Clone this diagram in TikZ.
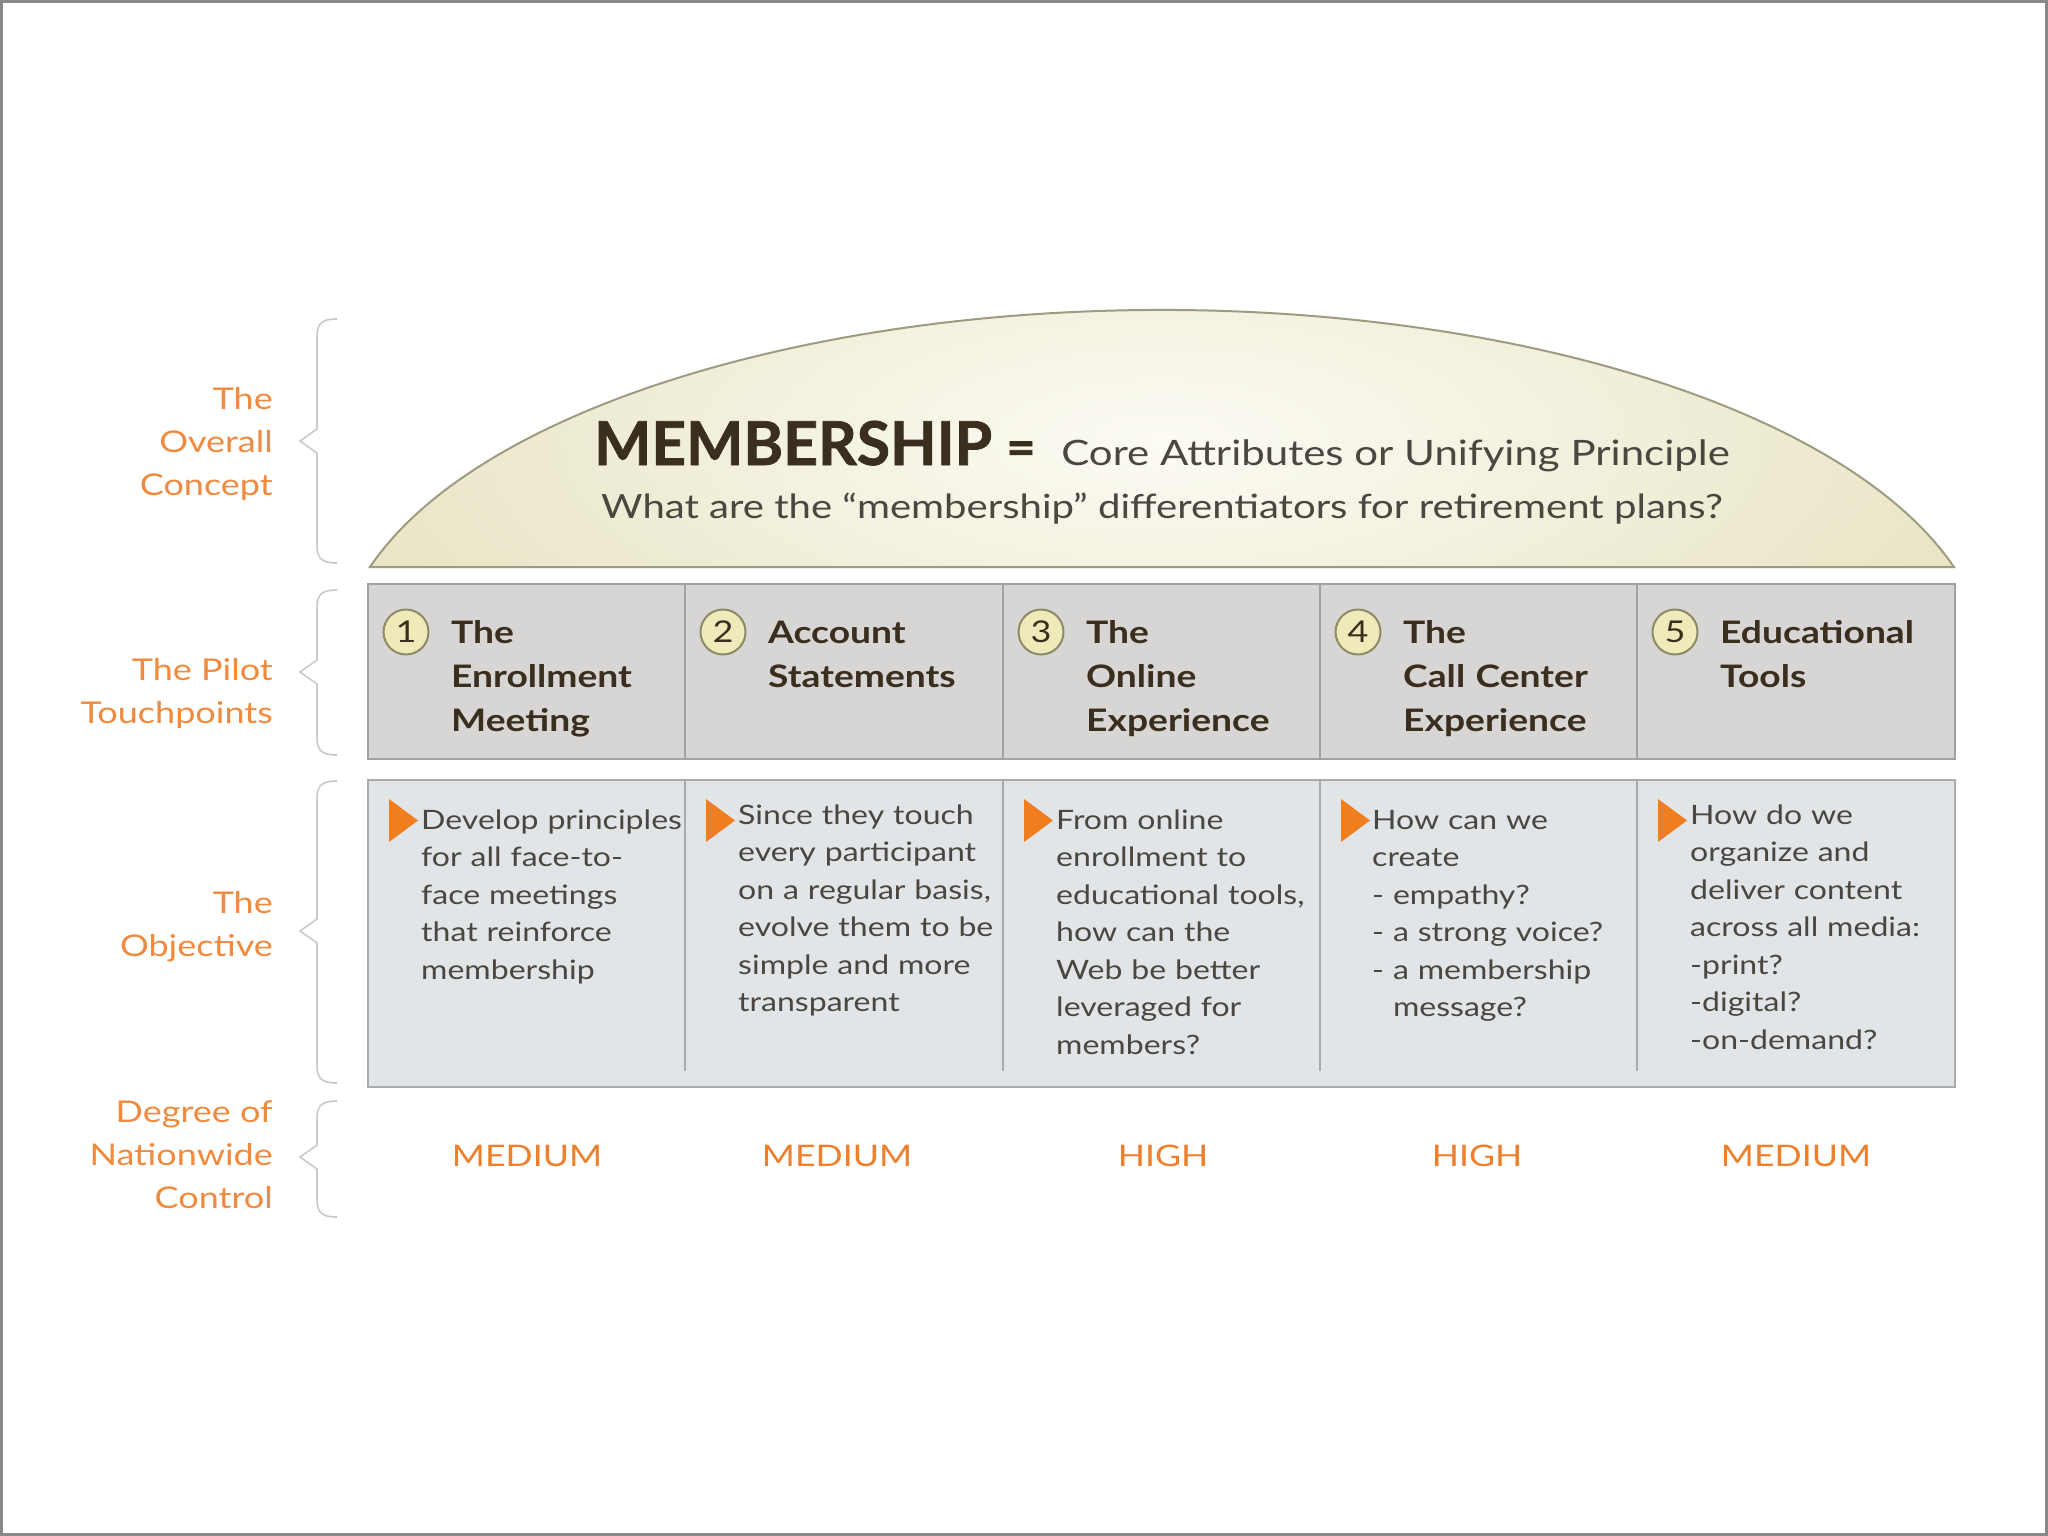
\documentclass[tikz,border=0pt]{standalone}
\usepackage{fontspec}
\setmainfont{Lato}
\newfontfamily\av{Lato}[FakeStretch=1.2]
\newfontfamily\avn{Lato}[BoldFeatures={FakeBold=1.2}]
\definecolor{orangeL}{HTML}{F08A3E}
\definecolor{orangeM}{HTML}{EE7F2D}
\definecolor{triC}{HTML}{F07D1E}
\definecolor{titleC}{HTML}{3A2E1E}
\definecolor{bodyC}{HTML}{4A4640}
\definecolor{domeIn}{HTML}{FCFBF4}
\definecolor{domeOut}{HTML}{DAD4A2}
\definecolor{domeLine}{HTML}{9E9C80}
\definecolor{rowAF}{HTML}{D7D6D4}
\definecolor{rowAD}{HTML}{A3A2A0}
\definecolor{rowBF}{HTML}{E1E5E8}
\definecolor{rowBD}{HTML}{A8AAAB}
\definecolor{circF}{HTML}{EFEAB9}
\definecolor{circD}{HTML}{8D8B66}
\definecolor{braceC}{HTML}{CACACA}
\definecolor{frameC}{HTML}{888888}
\tikzset{
  lbl/.style={anchor=base east, align=right, text=orangeL, inner sep=0,
    font=\av\fontsize{30}{43}\selectfont},
  ttl/.style={anchor=base west, align=left, text width=330pt, text=titleC, inner sep=0,
    font=\av\bfseries\fontsize{31}{44}\selectfont},
  bodytxt/.style={anchor=base west, align=left, text width=330pt, text=bodyC, inner sep=0,
    font=\av\fontsize{26.7}{37.5}\selectfont},
  numc/.style={circle, minimum size=45pt, inner sep=0, fill=circF, draw=circD, line width=2pt,
    text=titleC, font=\av\fontsize{30}{30}\selectfont},
  lvl/.style={anchor=base, text=orangeM, inner sep=0, font=\av\fontsize{29.7}{30}\selectfont},
  bracestyle/.style={draw=braceC, line width=1.6pt, line join=round},
  tri/.style={fill=triC},
  domepath/.style={insert path={(370,567) arc[start angle=196.27, end angle=343.73, x radius=825, y radius=357] -- cycle}},
}
\begin{document}
\begin{tikzpicture}[x=1pt,y=-1pt]
\useasboundingbox (0,0) rectangle (2048,1536);
\fill[white] (0,0) rectangle (2048,1536);
\draw[frameC, line width=3pt] (1.5,1.5) rectangle (2046.5,1534.5);

% dome
\begin{scope}
  \clip[domepath];
  \shade[inner color=domeIn, outer color=domeOut] (1162,440) ellipse[x radius=1500, y radius=560];
\end{scope}
\draw[domeLine, line width=2pt, domepath];

\node[anchor=base west, inner sep=0, text=titleC, font=\avn\bfseries\fontsize{60.5}{60}\selectfont] (mem) at (594,465) {MEMBERSHIP};
\node[anchor=base, inner sep=0, text=titleC, font=\avn\bfseries\fontsize{50}{50}\selectfont] (eq) at (1021,465) {=};
\node[anchor=base east, inner sep=0, text=bodyC, font=\av\fontsize{35}{35}\selectfont] (core) at (1730,465) {Core Attributes or Unifying Principle};
\node[anchor=base, inner sep=0, text=bodyC, font=\av\fontsize{33.4}{34}\selectfont] (quest) at (1162,518) {What are the “membership” differentiators for retirement plans?};

% row 1
\draw[fill=rowAF, draw=rowAD, line width=2pt] (368,584) rectangle (1955,759);
\foreach \x in {685,1003,1320,1637} \draw[rowAD, line width=1.6pt] (\x,584) -- (\x,759);
% row 2
\draw[fill=rowBF, draw=rowBD, line width=2pt] (368,780) rectangle (1955,1087);
\foreach \x in {685,1003,1320,1637} \draw[rowBD, line width=1.6pt] (\x,780) -- (\x,1071);

% numbers and titles
\node[numc] (n1) at (406,632) {1};
\node[numc] (n2) at (723,632) {2};
\node[numc] (n3) at (1041,632) {3};
\node[numc] (n4) at (1358,632) {4};
\node[numc] (n5) at (1675,632) {5};
\node[ttl] (t1) at (451,643) {The\\Enrollment\\Meeting};
\node[ttl] (t2) at (768,643) {Account\\Statements};
\node[ttl] (t3) at (1086,643) {The\\Online\\Experience};
\node[ttl] (t4) at (1403,643) {The\\Call Center\\Experience};
\node[ttl] (t5) at (1720,643) {Educational\\Tools};

% triangles
\foreach \x in {368,685,1003,1320,1637}
  \fill[tri] (\x+21,799) -- (\x+21,842) -- (\x+50,820.5) -- cycle;

% objectives
\node[bodytxt] (o1) at (421,829) {Develop principles\\for all face-to-\\face meetings\\that reinforce\\membership};
\node[bodytxt] (o2) at (738,824) {Since they touch\\every participant\\on a regular basis,\\evolve them to be\\simple and more\\transparent};
\node[bodytxt] (o3) at (1056,829) {From online\\enrollment to\\educational tools,\\how can the\\Web be better\\leveraged for\\members?};
\node[bodytxt] (o4) at (1372,829) {How can we\\create\\- empathy?\\- a strong voice?\\- a membership\\\phantom{- }message?};
\node[bodytxt] (o5) at (1690,824) {How do we\\organize and\\deliver content\\across all media:\\-print?\\-digital?\\-on-demand?};

% degree
\node[lvl] (d1) at (527,1166) {MEDIUM};
\node[lvl] (d2) at (837,1166) {MEDIUM};
\node[lvl] (d3) at (1163,1166) {HIGH};
\node[lvl] (d4) at (1477,1166) {HIGH};
\node[lvl] (d5) at (1796,1166) {MEDIUM};

% left labels (anchor = baseline of last line)
\node[lbl] (l1) at (273,495) {The\\Overall\\Concept};
\node[lbl] (l2) at (273,723) {The Pilot\\Touchpoints};
\node[lbl] (l3) at (273,956) {The\\Objective};
\node[lbl] (l4) at (273,1208) {Degree of\\Nationwide\\Control};

% braces
\foreach \T/\M/\B in {319/441/563, 590/672/755, 781/931/1083, 1101/1157/1217}
  \draw[bracestyle] (337,\T) .. controls (322,\T) and (317,\T+4) .. (317,\T+18)
    -- (317,\M-12) -- (300,\M) -- (317,\M+12) -- (317,\B-18)
    .. controls (317,\B-4) and (322,\B) .. (337,\B);
\end{tikzpicture}
\end{document}
